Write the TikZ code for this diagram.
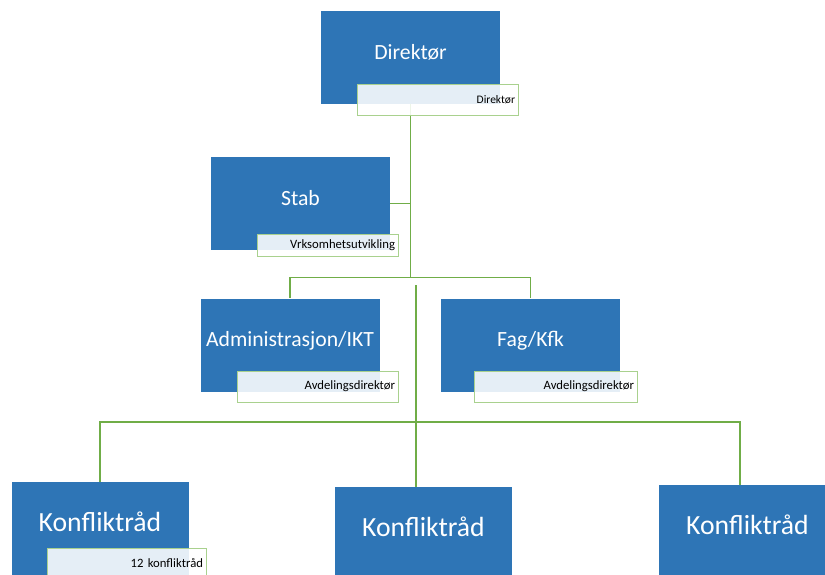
\documentclass[tikz,border=0pt]{standalone}
\usepackage{fontspec}
\setmainfont{Carlito}
\definecolor{unitblue}{HTML}{2E75B6}
\definecolor{linkgreen}{HTML}{70AD47}
\definecolor{rolegreen}{HTML}{A9D18E}

\begin{document}
\begin{tikzpicture}[
    x=1pt, y=-1pt,
    unit/.style={rectangle, fill=unitblue, text=white, minimum width=179, minimum height=93, inner sep=0pt, font=\fontsize{21.7}{26}\selectfont, text height=14pt, text depth=11pt},
    bigunit/.style={unit, minimum width=177, font=\fontsize{27.7}{33}\selectfont, text height=20pt, text depth=15pt},
    role/.style={rectangle, draw=rolegreen, line width=1pt, fill=white, fill opacity=0.88, text opacity=1, minimum height=31, inner xsep=3pt, inner ysep=0pt, align=right, font=\fontsize{12.7}{15}\selectfont},
    link/.style={draw=linkgreen, line width=1.2pt}
]
\clip (0,0) rectangle (825,574);

% Top - Direktor and Stab
\node[unit] (dir) at (410.5,57.5) {Direktør};
\node[unit] (stab) at (300.5,203.5) {Stab};

% Level 1 - departments
\node[unit] (admin) at (290,345) {Administrasjon/IKT};
\node[unit] (fag) at (530.5,345) {Fag/Kfk};

% Level 2 - Konfliktraad
\node[bigunit] (kon1) at (100,528.5) {Konfliktråd};
\node[bigunit] (kon2) at (423.5,533.5) {Konfliktråd};
\node[bigunit] (kon3) at (747.5,531.5) {Konfliktråd};

% Lines from Direktor
\draw[link] (dir.south) -- ++(0,173) -| (admin.north);
\draw[link] (dir.south) -- ++(0,173) -| (fag.north);
\draw[link] (stab.east) -| (dir.south);

% Lines to Konfliktraad
\coordinate (hub) at (416,285);
\draw[link] (hub) -- (hub |- kon2.north);
\draw[link] (hub) ++(0,137) -| (kon1.north);
\draw[link] (hub) ++(0,137) -| ([xshift=-7.5pt]kon3.north);

% Role boxes on top
\node[role, text width=155pt, font=\fontsize{11.5}{14}\selectfont] (dirlab) at (437.5,99.5) {Direktør};
\node[role, text width=135pt, minimum height=22] (stablab) at (327.5,245.5) {Vrksomhetsutvikling};
\node[role, text width=155pt] (adminlab) at (317.5,386.5) {Avdelingsdirektør};
\node[role, text width=157pt] (faglab) at (555.5,386.5) {Avdelingsdirektør};
\node[role, text width=153pt] (konlab) at (126.5,563.5) {12 konfliktråd};
\end{tikzpicture}
\end{document}
